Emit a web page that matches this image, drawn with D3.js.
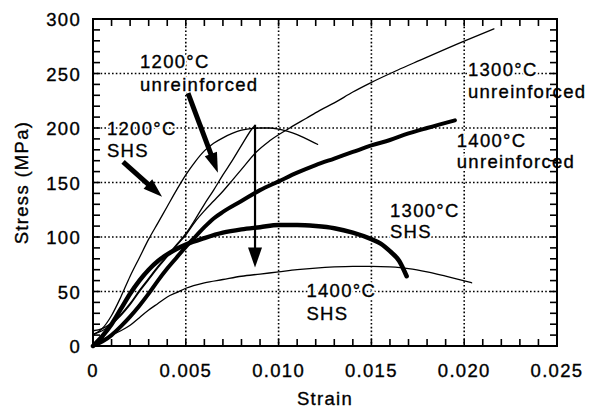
<!DOCTYPE html>
<html><head><meta charset="utf-8">
<script src="https://cdn.jsdelivr.net/npm/d3@7"></script>
<style>
body{margin:0;background:#fff;}
text{font-family:"Liberation Sans",Arial,sans-serif;}
</style></head>
<body><svg id="c" width="597" height="411"></svg>
<script>
// ---- data ----
const xTickValues = [0, 0.005, 0.010, 0.015, 0.020, 0.025];
const xTickLabels = ["0", "0.005", "0.010", "0.015", "0.020", "0.025"];
const yTickValues = [0, 50, 100, 150, 200, 250, 300];
const yTickLabels = ["0", "50", "100", "150", "200", "250", "300"];

const shs1200 = [[0,10],[0.0005,16],[0.001,28],[0.0015,45],[0.002,64],[0.0025,81],[0.003,98],[0.0035,113],[0.004,128],[0.0045,143],[0.005,157],[0.0055,169],[0.006,179],[0.0065,186],[0.007,191],[0.0075,195],[0.008,198],[0.0085,199.5],[0.009,200],[0.0095,200],[0.010,199],[0.0105,197],[0.011,194],[0.0115,190],[0.0121,185]];
const unr1200 = [[0,14],[0.0005,16],[0.001,21],[0.0015,29],[0.002,39],[0.0025,51],[0.003,62],[0.0035,73],[0.004,83],[0.0045,93],[0.005,103],[0.0055,116],[0.006,130],[0.0065,143],[0.007,157],[0.0075,170],[0.008,184],[0.0086,200],[0.0087,202]];
const unr1300 = [[0,11],[0.0005,14],[0.001,20],[0.0015,28],[0.002,38],[0.0025,50],[0.003,61],[0.0035,72],[0.004,82],[0.0045,92],[0.005,102],[0.0055,114],[0.006,124],[0.0065,133],[0.007,142],[0.0075,152],[0.008,162],[0.0088,178],[0.0095,188],[0.0106,200],[0.0115,209],[0.0122,216],[0.013,223],[0.014,233],[0.0149,241],[0.0164,253],[0.0176,262],[0.0199,279],[0.0216,291]];
const unr1400 = [[0,0],[0.0005,4],[0.001,10],[0.0015,18],[0.002,27],[0.0025,37],[0.003,48],[0.0035,60],[0.004,71],[0.0045,81],[0.005,91],[0.0055,100],[0.006,109],[0.0065,117],[0.007,123],[0.008,133],[0.009,143],[0.010,151],[0.011,159],[0.012,166],[0.013,172],[0.014,178],[0.015,184],[0.016,189],[0.017,195],[0.018,200],[0.0195,207]];
const shs1300 = [[0,0],[0.0005,9],[0.001,20],[0.0015,34],[0.002,48],[0.0025,60],[0.003,70],[0.0035,78],[0.004,84],[0.0045,89],[0.005,93],[0.006,99],[0.007,104],[0.008,107],[0.009,109],[0.010,111],[0.011,111],[0.012,110],[0.013,108],[0.014,104],[0.015,98],[0.0155,94],[0.016,87],[0.0165,78],[0.0169,64]];
const shs1400 = [[0,2],[0.0005,6],[0.001,10],[0.0015,14],[0.002,19],[0.0025,26],[0.003,33],[0.0035,39],[0.004,45],[0.0045,49],[0.005,53],[0.006,58],[0.007,61],[0.008,64],[0.009,66],[0.010,68],[0.011,70],[0.012,71.5],[0.013,72.5],[0.014,73],[0.015,73],[0.016,72.5],[0.017,71],[0.018,68],[0.019,64],[0.0204,58]];

// annotation arrows in data space [from, to]
const arrowUnr1200 = [[0.00512,232],[0.00673,159]];
const arrowShs1200 = [[0.00162,169],[0.00372,137]];
const arrowDrop = [[0.00873,203],[0.00873,72]];

// ---- layout ----
const m = {left:93, right:557, top:19, bottom:346};
const x = d3.scaleLinear().domain([0,0.025]).range([m.left, m.right]);
const y = d3.scaleLinear().domain([0,300]).range([m.bottom, m.top]);
const svg = d3.select("#c");
const FS = "18.5px", LS = "1.3px";

// grid
const g = svg.append("g");
g.selectAll(".gx").data(xTickValues.slice(1,-1)).join("line")
  .attr("x1", d=>x(d)).attr("x2", d=>x(d)).attr("y1", m.top).attr("y2", m.bottom)
  .attr("stroke","#000").attr("stroke-width",1.6).attr("stroke-dasharray","1.6,2.2");
g.selectAll(".gy").data(yTickValues.slice(1,-1)).join("line")
  .attr("y1", d=>y(d)).attr("y2", d=>y(d)).attr("x1", m.left).attr("x2", m.right)
  .attr("stroke","#000").attr("stroke-width",1.6).attr("stroke-dasharray","1.6,2.2");

// curves
const line = d3.line().x(d=>x(d[0])).y(d=>y(d[1])).curve(d3.curveMonotoneX);
const series = [
  {d: shs1200, w: 1.3},
  {d: unr1200, w: 1.3},
  {d: unr1300, w: 1.3},
  {d: shs1400, w: 1.3},
  {d: unr1400, w: 4},
  {d: shs1300, w: 4.5}
];
svg.selectAll(".curve").data(series).join("path")
  .attr("d", s=>line(s.d)).attr("fill","none").attr("stroke","#000")
  .attr("stroke-width", s=>s.w).attr("stroke-linecap","round").attr("stroke-linejoin","round");

// text helper: slightly heavy black text
function txt(sel){ return sel.attr("font-size",FS).attr("letter-spacing",LS)
  .attr("fill","#000").attr("stroke","#000").attr("stroke-width",0.35); }

// labels (white halo hides grid)
const labels = [
  {t:["1200°C","unreinforced"], x:0.00253, y:255, dy:[0,23]},
  {t:["1200°C","SHS"], x:0.00075, y:194, dy:[0,22]},
  {t:["1300°C","unreinforced"], x:0.0202, y:248, dy:[0,22]},
  {t:["1400°C","unreinforced"], x:0.0196, y:183, dy:[0,21]},
  {t:["1300°C","SHS"], x:0.0160, y:118, dy:[0,21]},
  {t:["1400°C","SHS"], x:0.0115, y:45, dy:[0,23]}
];
labels.forEach(L=>{
  L.t.forEach((s,i)=>{
    svg.append("text").attr("x", x(L.x)).attr("y", y(L.y)+L.dy[i])
      .attr("font-size",FS).attr("letter-spacing",LS).attr("fill","#fff")
      .attr("stroke","#fff").attr("stroke-width",4).attr("stroke-linejoin","round").text(s);
    txt(svg.append("text").attr("x", x(L.x)).attr("y", y(L.y)+L.dy[i])).text(s);
  });
});

// arrows
function arrow(a, lw, hl, hw){
  const x1=x(a[0][0]), y1=y(a[0][1]), x2=x(a[1][0]), y2=y(a[1][1]);
  const dx=x2-x1, dy=y2-y1, L=Math.hypot(dx,dy), ux=dx/L, uy=dy/L;
  const bx=x2-ux*hl, by=y2-uy*hl;
  svg.append("line").attr("x1",x1).attr("y1",y1).attr("x2",bx+ux*2).attr("y2",by+uy*2)
    .attr("stroke","#000").attr("stroke-width",lw);
  svg.append("path").attr("d", d3.line()([[x2,y2],[bx-uy*hw/2,by+ux*hw/2],[bx+uy*hw/2,by-ux*hw/2]])+"Z")
    .attr("fill","#000");
}
arrow(arrowUnr1200, 5, 20, 13);
arrow(arrowShs1200, 5, 19, 13);
arrow(arrowDrop, 2.2, 20, 14);

// frame
svg.append("rect").attr("x",m.left).attr("y",m.top).attr("width",m.right-m.left).attr("height",m.bottom-m.top)
  .attr("fill","none").attr("stroke","#000").attr("stroke-width",2);

// ticks (inward, all sides)
const xMinor = d3.range(0, 26).map(i=>i*0.001);
const yMinor = d3.range(0, 31).map(i=>i*10);
const tl = 7;
const tg = svg.append("g").attr("stroke","#000").attr("stroke-width",1.6);
xMinor.forEach(v=>{
  tg.append("line").attr("x1",x(v)).attr("x2",x(v)).attr("y1",m.bottom).attr("y2",m.bottom-tl);
  tg.append("line").attr("x1",x(v)).attr("x2",x(v)).attr("y1",m.top).attr("y2",m.top+tl);
});
yMinor.forEach(v=>{
  tg.append("line").attr("y1",y(v)).attr("y2",y(v)).attr("x1",m.left).attr("x2",m.left+tl);
  tg.append("line").attr("y1",y(v)).attr("y2",y(v)).attr("x1",m.right).attr("x2",m.right-tl);
});

// tick labels
txt(svg.selectAll(".xl").data(xTickValues).join("text")
  .attr("x", d=>x(d)).attr("y", m.bottom+31).attr("text-anchor","middle"))
  .text((d,i)=>xTickLabels[i]);
txt(svg.selectAll(".yl").data(yTickValues).join("text")
  .attr("x", m.left-12).attr("y", d=>y(d)+7).attr("text-anchor","end"))
  .text((d,i)=>yTickLabels[i]);

// axis titles
txt(svg.append("text").attr("x",(m.left+m.right)/2).attr("y",405).attr("text-anchor","middle")).text("Strain");
txt(svg.append("text").attr("transform",`translate(28,${(m.top+m.bottom)/2}) rotate(-90)`)
  .attr("text-anchor","middle")).text("Stress (MPa)");
</script></body></html>
